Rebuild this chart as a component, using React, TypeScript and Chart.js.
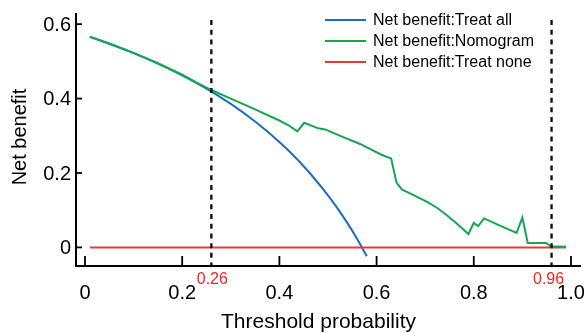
import React, { useEffect, useRef } from "react";
import { Chart, registerables } from "chart.js";

Chart.register(...registerables);

// Threshold probabilities and net benefit values
const treatAllX = [0.01, 0.05, 0.1, 0.15, 0.2, 0.25, 0.3, 0.35, 0.4, 0.45, 0.5, 0.52, 0.54, 0.56, 0.58];
const treatAllY = [0.5657, 0.5474, 0.5222, 0.4941, 0.4625, 0.4267, 0.3857, 0.3385, 0.2833, 0.2182, 0.14, 0.1042, 0.0652, 0.0227, -0.0238];

const nomogramX = [0.01, 0.05, 0.1, 0.15, 0.2, 0.23, 0.26, 0.3, 0.35, 0.4, 0.418, 0.437, 0.451, 0.48, 0.494, 0.53, 0.566, 0.61, 0.63, 0.641, 0.652, 0.675, 0.703, 0.725, 0.744, 0.765, 0.789, 0.8, 0.809, 0.821, 0.855, 0.888, 0.9, 0.911, 0.949, 0.958, 0.99];
const nomogramY = [0.566, 0.548, 0.523, 0.495, 0.464, 0.443, 0.423, 0.4, 0.371, 0.341, 0.329, 0.312, 0.335, 0.32, 0.317, 0.297, 0.278, 0.249, 0.239, 0.174, 0.156, 0.141, 0.123, 0.106, 0.087, 0.064, 0.036, 0.066, 0.057, 0.078, 0.058, 0.039, 0.08, 0.012, 0.012, 0.003, 0.002];

const treatNoneX = [0.01, 0.99];
const treatNoneY = [0, 0];

const cutoffs = [0.26, 0.96];
const cutoffLabels = ["0.26", "0.96"];

const xTicks = [0, 0.2, 0.4, 0.6, 0.8, 1.0];
const xTickLabels = ["0", "0.2", "0.4", "0.6", "0.8", "1.0"];
const yTicks = [0, 0.2, 0.4, 0.6];
const yTickLabels = ["0", "0.2", "0.4", "0.6"];

const legendLabels = ["Net benefit:Treat all", "Net benefit:Nomogram", "Net benefit:Treat none"];
const COLORS = ["#1a6fc0", "#17a650", "#e8383d"];

const FONT = '"Liberation Sans", Arial, Helvetica, sans-serif';

const toPts = (xs: number[], ys: number[]) => xs.map((x, i) => ({ x, y: ys[i] }));

const overlayPlugin = {
  id: "overlay",
  afterDraw(chart: any) {
    const ctx = chart.ctx as CanvasRenderingContext2D;
    const xs = chart.scales.x;
    const ys = chart.scales.y;
    const area = chart.chartArea;
    ctx.save();
    ctx.strokeStyle = "#000";
    ctx.fillStyle = "#000";
    ctx.lineWidth = 2;
    ctx.lineCap = "butt";
    // axes
    ctx.beginPath();
    ctx.moveTo(area.left, area.top);
    ctx.lineTo(area.left, area.bottom);
    ctx.lineTo(area.right, area.bottom);
    ctx.stroke();
    // x ticks (inward)
    ctx.lineWidth = 1.8;
    ctx.font = `20px ${FONT}`;
    ctx.textAlign = "center";
    ctx.textBaseline = "middle";
    xTicks.forEach((v, i) => {
      const px = xs.getPixelForValue(v);
      ctx.beginPath();
      ctx.moveTo(px, area.bottom);
      ctx.lineTo(px, area.bottom - 10);
      ctx.stroke();
      ctx.fillText(xTickLabels[i], px, area.bottom + 27);
    });
    // y ticks (inward)
    ctx.textAlign = "right";
    yTicks.forEach((v, i) => {
      const py = ys.getPixelForValue(v);
      ctx.beginPath();
      ctx.moveTo(area.left, py);
      ctx.lineTo(area.left + 6, py);
      ctx.stroke();
      ctx.fillText(yTickLabels[i], area.left - 5, py + 1);
    });
    // axis titles
    ctx.font = `21px ${FONT}`;
    ctx.textAlign = "center";
    ctx.fillText("Threshold probability", (area.left + area.right) / 2 - 10, area.bottom + 56);
    ctx.font = `20px ${FONT}`;
    ctx.save();
    ctx.translate(20, 137);
    ctx.rotate(-Math.PI / 2);
    ctx.fillText("Net benefit", 0, 0);
    ctx.restore();
    // cutoff labels
    ctx.fillStyle = "#f02525";
    ctx.font = `16px ${FONT}`;
    cutoffs.forEach((c, i) => {
      const px = xs.getPixelForValue(c);
      ctx.fillText(cutoffLabels[i], px + (i === 1 ? -3 : 1), area.bottom + 14);
    });
    // legend
    ctx.font = `16px ${FONT}`;
    ctx.textAlign = "left";
    legendLabels.forEach((lab, i) => {
      const y = 20 + i * 21;
      ctx.strokeStyle = COLORS[i];
      ctx.lineWidth = 2;
      ctx.beginPath();
      ctx.moveTo(325, y);
      ctx.lineTo(366, y);
      ctx.stroke();
      ctx.fillStyle = "#000";
      ctx.fillText(lab, 373, y + 1);
    });
    ctx.restore();
  },
};

export default function App() {
  const ref = useRef<HTMLCanvasElement | null>(null);
  useEffect(() => {
    document.body.style.margin = "0";
    if (!ref.current) return;
    const chart = new Chart(ref.current, {
      type: "line",
      data: {
        datasets: [
          {
            label: legendLabels[0],
            data: toPts(treatAllX, treatAllY),
            borderColor: COLORS[0],
            borderWidth: 2,
            pointRadius: 0,
            cubicInterpolationMode: "monotone",
            order: 3,
          },
          {
            label: legendLabels[1],
            data: toPts(nomogramX, nomogramY),
            borderColor: COLORS[1],
            borderWidth: 2,
            pointRadius: 0,
            tension: 0,
            order: 1,
          },
          {
            label: legendLabels[2],
            data: toPts(treatNoneX, treatNoneY),
            borderColor: COLORS[2],
            borderWidth: 2,
            pointRadius: 0,
            order: 2,
          },
          ...cutoffs.map((c) => ({
            label: "cutoff " + c,
            data: [
              { x: c, y: 0.611 },
              { x: c, y: -0.05 },
            ],
            borderColor: "#111",
            borderWidth: 2.4,
            borderDash: [5, 4.7],
            pointRadius: 0,
            order: 0,
          })),
        ] as any,
      },
      options: {
        animation: false,
        responsive: false,
        maintainAspectRatio: false,
        layout: { padding: { left: 76, right: 6, top: 13, bottom: 67 } },
        plugins: { legend: { display: false }, tooltip: { enabled: false } },
        scales: {
          x: { type: "linear", min: -0.0185, max: 1.0206, display: false },
          y: { type: "linear", min: -0.05, max: 0.63, display: false },
        },
      },
      plugins: [overlayPlugin],
    });
    return () => chart.destroy();
  }, []);
  return (
    <div style={{ width: 587, height: 333 }}>
      <canvas ref={ref} width={587} height={333} style={{ display: "block", width: 587, height: 333 }} />
    </div>
  );
}
